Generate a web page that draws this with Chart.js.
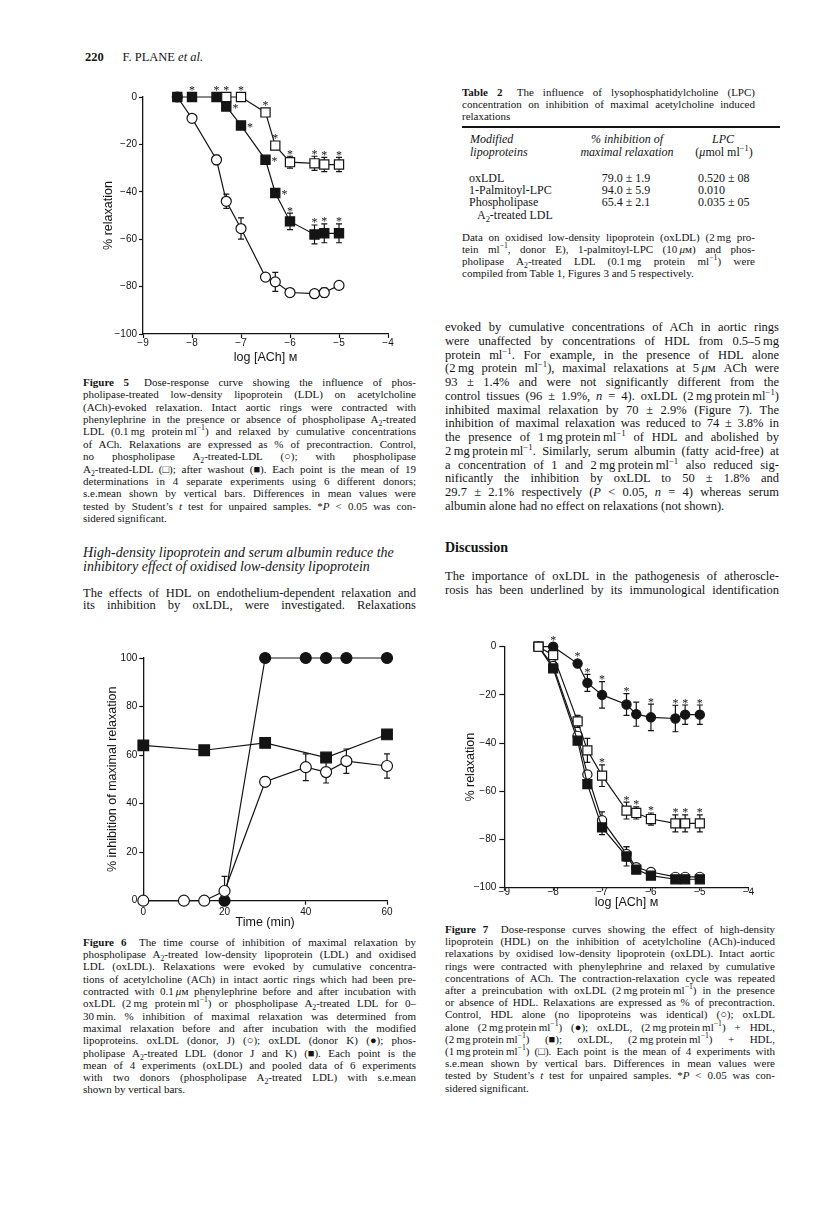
<!DOCTYPE html>
<html>
<head>
<meta charset="utf-8">
<script src="https://cdn.jsdelivr.net/npm/chart.js@4.4.1/dist/chart.umd.min.js"></script>
<style>
  html, body { margin: 0; padding: 0; background: #fff; }
  #page { position: relative; width: 816px; height: 1206px; overflow: hidden; background: #fff; color: #141414;
          font-family: 'Liberation Serif', 'Times New Roman', serif; }
  .ln { position: absolute; white-space: nowrap; transform-origin: 0 50%; }
  .ln sub, .ln sup { font-size: 70%; line-height: 0; }
  canvas { position: absolute; }
</style>
</head>
<body>
<div id="page">
  <canvas id="fig5" width="310" height="300" style="left:90px;top:70px"></canvas>
  <canvas id="fig6" width="310" height="295" style="left:90px;top:640px"></canvas>
  <canvas id="fig7" width="310" height="300" style="left:455px;top:620px"></canvas>
  <div style="position:absolute;left:462px;top:126px;width:318px;height:1.5px;background:#141414"></div>
</div>
<script>
// ---- Figure 5 data (log [ACh] M vs % relaxation)
const f5Dose = [-8.3, -8, -7.5, -7.3, -7, -6.5, -6.3, -6, -5.5, -5.3, -5];
const f5Control = [0, -9, -26.5, -44, -55.5, -76, -78, -82.5, -83, -82.5, -79.5];
const f5ControlErr = [0, 0, 2, 3, 4.5, 0, 4, 1.5, 1, 2, 1.5];
const f5Washout = [0, 0, 0, -4, -12, -26.5, -40.5, -52.5, -58, -57.5, -57.5];
const f5WashoutErr = [0, 0, 0, 0, 0, 0, 0, 3.5, 4, 4, 4];
const f5WashoutStar = [0, 1, 1, 2, 2, 2, 2, 1, 1, 1, 1];
const f5PlaDose = [-7.3, -7, -6.5, -6.3, -6, -5.5, -5.3, -5];
const f5Pla = [0, 0, -6.5, -20.5, -27.5, -28, -28.5, -28.5];
const f5PlaErr = [0, 0, 0, 0, 2.5, 3, 3, 3];
const f5PlaStar = [1, 1, 1, 1, 1, 1, 1, 1];

// ---- Figure 6 data (time, min vs % inhibition)
const f6TimeJ = [0, 10, 15, 20, 30, 40, 45, 50, 60];
const f6DonorJ = [0, 0, 0, 4, 49, 55, 53, 57.5, 55.5];
const f6DonorJErr = [0, 0, 0, 6, 2, 5.5, 4.5, 5, 5];
const f6TimeK = [20, 30, 40, 45, 50, 60];
const f6DonorK = [0, 100, 100, 100, 100, 100];
const f6TimePla = [0, 15, 30, 45, 60];
const f6Pla = [64, 62, 65, 59, 68.5];

// ---- Figure 7 data (log [ACh] M vs % relaxation)
const f7Dose = [-8.3, -8, -7.5, -7.3, -7, -6.5, -6.3, -6, -5.5, -5.3, -5];
const f7Control = [0, -8, -37, -53, -72, -86, -91.5, -93.5, -95.5, -95.5, -95.5];
const f7ControlErr = [0, 0, 0, 0, 3.5, 3, 0, 0, 0, 0, 0];
const f7OxLdl = [0, 0, -7, -15, -20, -24, -28, -29.3, -29.8, -28.2, -28.2];
const f7OxLdlErr = [0, 0, 0, 3.5, 5.5, 4.5, 5, 5.5, 5.5, 4, 4];
const f7OxLdlStar = [0, 1, 1, 1, 1, 1, 0, 1, 1, 1, 1];
const f7Hdl2 = [0, -9, -39, -57, -75, -87, -92.5, -95, -96.5, -96.5, -96.5];
const f7Hdl2Err = [0, 0, 0, 0, 3, 4, 0, 0, 0, 0, 0];
const f7Hdl1 = [0, -3.5, -31, -43, -53.5, -68, -69, -71.5, -73.3, -73.3, -73.3];
const f7Hdl1Err = [0, 0, 2.5, 5, 4.5, 3.5, 2.5, 2.5, 3.5, 3.5, 3.5];
const f7Hdl1Star = [0, 0, 0, 0, 1, 1, 1, 1, 1, 1, 1];

const INK = '#141414';
const SANS = "'Liberation Sans', Arial, sans-serif";
const SERIF = "'Liberation Serif', 'Times New Roman', serif";

function minus(v) {
  return v < 0 ? '\u2212' + Math.abs(v) : String(v);
}

function axis(min, max, step, title, o) {
  return {
    type: 'linear', min: min, max: max,
    ticks: { stepSize: step, color: INK, padding: o.pad, maxRotation: 0, autoSkip: false,
             font: { family: SANS, size: 10 }, callback: minus },
    grid: { drawOnChartArea: false, drawTicks: true, tickLength: o.tl, tickWidth: 1.2, tickColor: INK, color: INK },
    border: { display: true, color: INK, width: 1.3 },
    title: { display: true, text: title, color: INK, font: { family: SANS, size: 12.5 }, padding: o.titlePad },
    afterFit: s => {
      if (o.width) s.width = o.width;
      if (o.height) s.height = o.height;
    }
  };
}

function series(xs, ys, style) {
  return Object.assign({
    data: xs.map((x, i) => ({ x: x, y: ys[i] })),
    showLine: true, borderColor: INK, borderWidth: 1.2, tension: 0,
    pointBorderColor: INK, pointBorderWidth: 1.2, clip: false
  }, style);
}

const openCircle = r => ({ pointStyle: 'circle', pointRadius: r, pointBackgroundColor: '#fff' });
const fullCircle = r => ({ pointStyle: 'circle', pointRadius: r, pointBackgroundColor: INK });
const openSquare = r => ({ pointStyle: 'rect', pointRadius: r, pointBackgroundColor: '#fff' });
const fullSquare = r => ({ pointStyle: 'rect', pointRadius: r, pointBackgroundColor: INK });

// s.e.mean bars under the markers, significance stars on top
const marksPlugin = {
  id: 'marks',
  beforeDatasetsDraw(chart) {
    const ctx = chart.ctx;
    const yScale = chart.scales.y;
    chart.data.datasets.forEach((ds, i) => {
      if (!ds.errors) return;
      const meta = chart.getDatasetMeta(i);
      ctx.save();
      ctx.strokeStyle = INK;
      ctx.lineWidth = 1.2;
      meta.data.forEach((pt, j) => {
        const e = ds.errors[j];
        if (!e) return;
        const v = ds.data[j].y;
        const top = yScale.getPixelForValue(v + e);
        const bot = yScale.getPixelForValue(v - e);
        ctx.beginPath();
        ctx.moveTo(pt.x, top); ctx.lineTo(pt.x, bot);
        ctx.moveTo(pt.x - 3, top); ctx.lineTo(pt.x + 3, top);
        ctx.moveTo(pt.x - 3, bot); ctx.lineTo(pt.x + 3, bot);
        ctx.stroke();
      });
      ctx.restore();
    });
  },
  afterDatasetsDraw(chart) {
    const ctx = chart.ctx;
    const yScale = chart.scales.y;
    chart.data.datasets.forEach((ds, i) => {
      if (!ds.stars) return;
      const meta = chart.getDatasetMeta(i);
      const half = ds.pointStyle === 'rect' ? ds.pointRadius * Math.SQRT1_2 : ds.pointRadius;
      ctx.save();
      ctx.fillStyle = INK;
      ctx.font = '12px ' + SERIF;
      ctx.textAlign = 'center';
      ctx.textBaseline = 'alphabetic';
      meta.data.forEach((pt, j) => {
        const s = ds.stars[j];
        if (!s) return;
        let cx, cy;
        if (s === 1) {
          const e = ds.errors ? ds.errors[j] : 0;
          let top = pt.y - half;
          if (e) top = Math.min(top, yScale.getPixelForValue(ds.data[j].y + e));
          cx = pt.x;
          cy = top - 4;
        } else {
          cx = pt.x + half + 4.5;
          cy = pt.y;
        }
        ctx.fillText('*', cx, cy + 5.5);
      });
      ctx.restore();
    });
  }
};

function makeChart(id, datasets, scales, pad) {
  return new Chart(document.getElementById(id), {
    type: 'scatter',
    data: { datasets: datasets },
    options: {
      responsive: false, animation: false, devicePixelRatio: 1, events: [],
      layout: { padding: { top: pad.top, right: pad.right, bottom: 0, left: 0 } },
      plugins: { legend: { display: false }, tooltip: { enabled: false } },
      scales: scales
    },
    plugins: [marksPlugin]
  });
}

// Figure 5
makeChart('fig5', [
  series(f5PlaDose, f5Pla, Object.assign(openSquare(6.5), { errors: f5PlaErr, stars: f5PlaStar })),
  series(f5Dose, f5Washout, Object.assign(fullSquare(6.5), { errors: f5WashoutErr, stars: f5WashoutStar })),
  series(f5Dose, f5Control, Object.assign(openCircle(5), { errors: f5ControlErr }))
], {
  x: axis(-9, -4, 1, 'log [ACh] \u043c', { tl: 4, pad: -0.5, titlePad: { top: 0, bottom: 5 }, height: 36 }),
  y: axis(-100, 0, 20, '% relaxation', { tl: 4, pad: 2, titlePad: { top: 11.5, bottom: 0 }, width: 53 })
}, { top: 27, right: 12 });

// Figure 6
makeChart('fig6', [
  series(f6TimeJ, f6DonorJ, Object.assign(openCircle(5.5), { errors: f6DonorJErr })),
  series(f6TimeK, f6DonorK, fullCircle(5.5)),
  series(f6TimePla, f6Pla, fullSquare(7.5))
], {
  x: axis(0, 60, 20, 'Time (min)', { tl: 4, pad: 1.3, titlePad: { top: 0, bottom: 4.5 }, height: 34.3 }),
  y: axis(0, 100, 20, '% inhibition of maximal relaxation', { tl: 4, pad: 2, titlePad: { top: 15.5, bottom: 0 }, width: 53.3 })
}, { top: 18, right: 13 });

// Figure 7
makeChart('fig7', [
  series(f7Dose, f7Hdl1, Object.assign(openSquare(6.4), { errors: f7Hdl1Err, stars: f7Hdl1Star })),
  series(f7Dose, f7OxLdl, Object.assign(fullCircle(4.6), { errors: f7OxLdlErr, stars: f7OxLdlStar })),
  series(f7Dose, f7Hdl2, Object.assign(fullSquare(6.4), { errors: f7Hdl2Err })),
  series(f7Dose, f7Control, Object.assign(openCircle(4.6), { errors: f7ControlErr }))
], {
  x: axis(-9, -4, 1, 'log [ACh] \u043c', { tl: 3, pad: -4, titlePad: { top: 0, bottom: 9.8 }, height: 32.3 }),
  y: axis(-100, 0, 20, '% relaxation', { tl: 5, pad: 3, titlePad: { top: 8, bottom: 0 }, width: 49.3 })
}, { top: 26.7, right: 16.3 });

// ---- page text, one element per printed line
function textBlock(x, centerY, width, lh, size, lines, opts) {
  opts = opts || {};
  const page = document.getElementById('page');
  lines.forEach((html, i) => {
    const d = document.createElement('div');
    d.className = 'ln';
    d.innerHTML = html;
    d.style.left = x + 'px';
    d.style.top = (centerY + i * lh - lh / 2) + 'px';
    d.style.fontSize = size + 'px';
    d.style.lineHeight = lh + 'px';
    if (opts.italic) d.style.fontStyle = 'italic';
    if (opts.bold) d.style.fontWeight = 'bold';
    page.appendChild(d);
    const natural = d.getBoundingClientRect().width;
    const last = i === lines.length - 1;
    const justify = opts.justify !== false && (!last || opts.justifyLast);
    const spaces = (d.textContent.match(/ /g) || []).length;
    if (justify && natural < width && spaces > 0) {
      d.style.wordSpacing = ((width - natural) / spaces) + 'px';
    } else if (natural > width) {
      d.style.transform = 'scaleX(' + (width / natural) + ')';
    }
  });
}

const ML = 'ml<sup>\u22121</sup>';
const A2 = 'A<sub>2</sub>';
const UM = '<i>\u03bc</i>\u043c';

textBlock(85, 57, 200, 14, 12.5, ['<b>220</b>\u2003\u2002F. PLANE <i>et al.</i>'], { justify: false });

textBlock(83, 382, 333, 12.4, 11, [
  '<b>Figure 5</b>\u2002 Dose-response curve showing the influence of phos-',
  'pholipase-treated low-density lipoprotein (LDL) on acetylcholine',
  '(ACh)-evoked relaxation. Intact aortic rings were contracted with',
  'phenylephrine in the presence or absence of phospholipase ' + A2 + '-treated',
  'LDL (0.1\u2009mg protein\u2009' + ML + ') and relaxed by cumulative concentrations',
  'of ACh. Relaxations are expressed as % of precontraction. Control,',
  'no phospholipase ' + A2 + '-treated-LDL (\u25cb); with phospholipase',
  A2 + '-treated-LDL (\u25a1); after washout (\u25a0). Each point is the mean of 19',
  'determinations in 4 separate experiments using 6 different donors;',
  's.e.mean shown by vertical bars. Differences in mean values were',
  'tested by Student\u2019s <i>t</i> test for unpaired samples. *<i>P</i> &lt; 0.05 was con-',
  'sidered significant.'
]);

textBlock(83, 553, 333, 13.2, 14, [
  'High-density lipoprotein and serum albumin reduce the',
  'inhibitory effect of oxidised low-density lipoprotein'
], { italic: true, justify: false });

textBlock(83, 593, 333, 12.8, 12.5, [
  'The effects of HDL on endothelium-dependent relaxation and',
  'its inhibition by oxLDL, were investigated. Relaxations'
], { justifyLast: true });

textBlock(83, 942, 333, 12.3, 11, [
  '<b>Figure 6</b>\u2002 The time course of inhibition of maximal relaxation by',
  'phospholipase ' + A2 + '-treated low-density lipoprotein (LDL) and oxidised',
  'LDL (oxLDL). Relaxations were evoked by cumulative concentra-',
  'tions of acetylcholine (ACh) in intact aortic rings which had been pre-',
  'contracted with 0.1\u2009' + UM + ' phenylephrine before and after incubation with',
  'oxLDL (2\u2009mg protein\u2009' + ML + ') or phospholipase ' + A2 + '-treated LDL for 0\u2013',
  '30\u2009min. % inhibition of maximal relaxation was determined from',
  'maximal relaxation before and after incubation with the modified',
  'lipoproteins. oxLDL (donor, J) (\u25cb); oxLDL (donor K) (\u25cf); phos-',
  'pholipase ' + A2 + '-treated LDL (donor J and K) (\u25a0). Each point is the',
  'mean of 4 experiments (oxLDL) and pooled data of 6 experiments',
  'with two donors (phospholipase ' + A2 + '-treated LDL) with s.e.mean',
  'shown by vertical bars.'
]);

// right column
textBlock(462, 93, 293, 11.7, 11, [
  '<b>Table 2</b>\u2002 The influence of lysophosphatidylcholine (LPC)',
  'concentration on inhibition of maximal acetylcholine induced',
  'relaxations'
]);

function cell(x, cy, html, align, italic) {
  const page = document.getElementById('page');
  const d = document.createElement('div');
  d.className = 'ln';
  d.innerHTML = html;
  d.style.fontSize = '12px';
  d.style.lineHeight = '13px';
  d.style.top = (cy - 6.5) + 'px';
  if (italic) d.style.fontStyle = 'italic';
  page.appendChild(d);
  const w = d.getBoundingClientRect().width;
  d.style.left = (align === 'center' ? x - w / 2 : x) + 'px';
}
cell(470, 139, 'Modified', 'left', true);
cell(470, 152, 'lipoproteins', 'left', true);
cell(627, 139, '% inhibition of', 'center', true);
cell(627, 152, 'maximal relaxation', 'center', true);
cell(723, 139, 'LPC', 'center', true);
cell(724, 152, '(<i>\u03bc</i>mol ' + ML + ')', 'center', false);

const t2Rows = ['oxLDL', '1-Palmitoyl-LPC', 'Phospholipase'];
const t2Inhibition = ['79.0 \u00b1 1.9', '94.0 \u00b1 5.9', '65.4 \u00b1 2.1'];
const t2Lpc = ['0.520 \u00b1 08', '0.010', '0.035 \u00b1 05'];
t2Rows.forEach((r, i) => {
  const cy = 178 + i * 12.2;
  cell(469, cy, r, 'left');
  cell(626, cy, t2Inhibition[i], 'center');
  cell(698, cy, t2Lpc[i], 'left');
});
cell(477, 215, A2 + '-treated LDL', 'left');

textBlock(462, 237, 293, 12, 11, [
  'Data on oxidised low-density lipoprotein (oxLDL) (2\u2009mg pro-',
  'tein ' + ML + ', donor E), 1-palmitoyl-LPC (10\u2009' + UM + ') and phos-',
  'pholipase ' + A2 + '-treated LDL (0.1\u2009mg protein ' + ML + ') were',
  'compiled from Table 1, Figures 3 and 5 respectively.'
]);

textBlock(445, 328, 334, 13.75, 12.5, [
  'evoked by cumulative concentrations of ACh in aortic rings',
  'were unaffected by concentrations of HDL from 0.5\u20135\u2009mg',
  'protein ' + ML + '. For example, in the presence of HDL alone',
  '(2\u2009mg protein ' + ML + '), maximal relaxations at 5\u2009' + UM + ' ACh were',
  '93 \u00b1 1.4% and were not significantly different from the',
  'control tissues (96 \u00b1 1.9%, <i>n</i> = 4). oxLDL (2\u2009mg\u2009protein\u2009' + ML + ')',
  'inhibited maximal relaxation by 70 \u00b1 2.9% (Figure 7). The',
  'inhibition of maximal relaxation was reduced to 74 \u00b1 3.8% in',
  'the presence of 1\u2009mg\u2009protein\u2009' + ML + ' of HDL and abolished by',
  '2\u2009mg\u2009protein\u2009' + ML + '. Similarly, serum albumin (fatty acid-free) at',
  'a concentration of 1 and 2\u2009mg\u2009protein\u2009' + ML + ' also reduced sig-',
  'nificantly the inhibition by oxLDL to 50 \u00b1 1.8% and',
  '29.7 \u00b1 2.1% respectively (<i>P</i> &lt; 0.05, <i>n</i> = 4) whereas serum',
  'albumin alone had no effect on relaxations (not shown).'
]);

textBlock(445, 548, 200, 14, 14, ['Discussion'], { bold: true, justify: false });

textBlock(445, 577, 334, 13.5, 12.5, [
  'The importance of oxLDL in the pathogenesis of atheroscle-',
  'rosis has been underlined by its immunological identification'
], { justifyLast: true });

textBlock(445, 929, 330, 12.2, 11, [
  '<b>Figure 7</b>\u2002 Dose-response curves showing the effect of high-density',
  'lipoprotein (HDL) on the inhibition of acetylcholine (ACh)-induced',
  'relaxations by oxidised low-density lipoprotein (oxLDL). Intact aortic',
  'rings were contracted with phenylephrine and relaxed by cumulative',
  'concentrations of ACh. The contraction-relaxation cycle was repeated',
  'after a preincubation with oxLDL (2\u2009mg\u2009protein\u2009' + ML + ') in the presence',
  'or absence of HDL. Relaxations are expressed as % of precontraction.',
  'Control, HDL alone (no lipoproteins was identical) (\u25cb); oxLDL',
  'alone (2\u2009mg\u2009protein\u2009' + ML + ') (\u25cf); oxLDL, (2\u2009mg\u2009protein\u2009' + ML + ') + HDL,',
  '(2\u2009mg\u2009protein\u2009' + ML + ') (\u25a0); oxLDL, (2\u2009mg\u2009protein\u2009' + ML + ') + HDL,',
  '(1\u2009mg\u2009protein\u2009' + ML + ') (\u25a1). Each point is the mean of 4 experiments with',
  's.e.mean shown by vertical bars. Differences in mean values were',
  'tested by Student\u2019s <i>t</i> test for unpaired samples. *<i>P</i> &lt; 0.05 was con-',
  'sidered significant.'
]);
</script>
</body>
</html>
